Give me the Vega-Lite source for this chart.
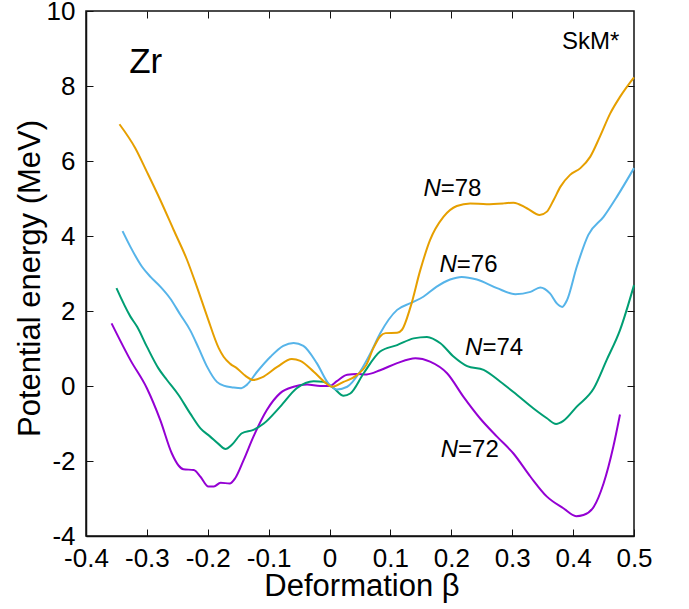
{
  "$schema": "https://vega.github.io/schema/vega-lite/v6.json",
  "width": 548,
  "height": 525,
  "autosize": "none",
  "padding": {"left": 86, "top": 11, "right": 55, "bottom": 73},
  "config": {
    "font": "Liberation Sans",
    "view": {"stroke": "#111", "strokeWidth": 1.5},
    "axis": {"grid": false, "domainColor": "#111", "domainWidth": 1.5, "tickColor": "#111", "labelColor": "#000", "titleColor": "#000", "titleFontWeight": "normal", "labelFont": "Liberation Sans", "titleFont": "Liberation Sans"}
  },
  "datasets": {
    "curves": [
      {"b": -0.358, "e": 1.67, "N": "72"},
      {"b": -0.327, "e": 0.69, "N": "72"},
      {"b": -0.300, "e": -0.06, "N": "72"},
      {"b": -0.278, "e": -0.91, "N": "72"},
      {"b": -0.259, "e": -1.80, "N": "72"},
      {"b": -0.248, "e": -2.12, "N": "72"},
      {"b": -0.240, "e": -2.22, "N": "72"},
      {"b": -0.223, "e": -2.24, "N": "72"},
      {"b": -0.212, "e": -2.42, "N": "72"},
      {"b": -0.199, "e": -2.68, "N": "72"},
      {"b": -0.190, "e": -2.68, "N": "72"},
      {"b": -0.179, "e": -2.58, "N": "72"},
      {"b": -0.164, "e": -2.60, "N": "72"},
      {"b": -0.155, "e": -2.46, "N": "72"},
      {"b": -0.141, "e": -1.97, "N": "72"},
      {"b": -0.125, "e": -1.35, "N": "72"},
      {"b": -0.103, "e": -0.64, "N": "72"},
      {"b": -0.081, "e": -0.19, "N": "72"},
      {"b": -0.059, "e": -0.02, "N": "72"},
      {"b": -0.037, "e": 0.04, "N": "72"},
      {"b": -0.015, "e": 0.0, "N": "72"},
      {"b": 0.0, "e": 0.0, "N": "72"},
      {"b": 0.012, "e": 0.13, "N": "72"},
      {"b": 0.029, "e": 0.30, "N": "72"},
      {"b": 0.045, "e": 0.32, "N": "72"},
      {"b": 0.061, "e": 0.31, "N": "72"},
      {"b": 0.083, "e": 0.42, "N": "72"},
      {"b": 0.111, "e": 0.61, "N": "72"},
      {"b": 0.141, "e": 0.74, "N": "72"},
      {"b": 0.165, "e": 0.65, "N": "72"},
      {"b": 0.193, "e": 0.34, "N": "72"},
      {"b": 0.220, "e": -0.29, "N": "72"},
      {"b": 0.247, "e": -0.86, "N": "72"},
      {"b": 0.275, "e": -1.35, "N": "72"},
      {"b": 0.302, "e": -1.80, "N": "72"},
      {"b": 0.330, "e": -2.42, "N": "72"},
      {"b": 0.357, "e": -2.95, "N": "72"},
      {"b": 0.384, "e": -3.26, "N": "72"},
      {"b": 0.405, "e": -3.47, "N": "72"},
      {"b": 0.417, "e": -3.44, "N": "72"},
      {"b": 0.434, "e": -3.22, "N": "72"},
      {"b": 0.450, "e": -2.60, "N": "72"},
      {"b": 0.466, "e": -1.62, "N": "72"},
      {"b": 0.477, "e": -0.76, "N": "72"},

      {"b": -0.350, "e": 2.61, "N": "74"},
      {"b": -0.327, "e": 1.85, "N": "74"},
      {"b": -0.316, "e": 1.58, "N": "74"},
      {"b": -0.300, "e": 1.05, "N": "74"},
      {"b": -0.281, "e": 0.47, "N": "74"},
      {"b": -0.267, "e": 0.16, "N": "74"},
      {"b": -0.248, "e": -0.24, "N": "74"},
      {"b": -0.229, "e": -0.73, "N": "74"},
      {"b": -0.212, "e": -1.13, "N": "74"},
      {"b": -0.196, "e": -1.35, "N": "74"},
      {"b": -0.182, "e": -1.55, "N": "74"},
      {"b": -0.171, "e": -1.68, "N": "74"},
      {"b": -0.160, "e": -1.56, "N": "74"},
      {"b": -0.144, "e": -1.26, "N": "74"},
      {"b": -0.125, "e": -1.17, "N": "74"},
      {"b": -0.108, "e": -1.0, "N": "74"},
      {"b": -0.081, "e": -0.55, "N": "74"},
      {"b": -0.054, "e": -0.06, "N": "74"},
      {"b": -0.026, "e": 0.13, "N": "74"},
      {"b": -0.010, "e": 0.11, "N": "74"},
      {"b": 0.007, "e": -0.06, "N": "74"},
      {"b": 0.023, "e": -0.26, "N": "74"},
      {"b": 0.034, "e": -0.20, "N": "74"},
      {"b": 0.056, "e": 0.34, "N": "74"},
      {"b": 0.083, "e": 0.92, "N": "74"},
      {"b": 0.111, "e": 1.09, "N": "74"},
      {"b": 0.138, "e": 1.27, "N": "74"},
      {"b": 0.160, "e": 1.31, "N": "74"},
      {"b": 0.182, "e": 1.14, "N": "74"},
      {"b": 0.204, "e": 0.78, "N": "74"},
      {"b": 0.226, "e": 0.53, "N": "74"},
      {"b": 0.253, "e": 0.43, "N": "74"},
      {"b": 0.280, "e": 0.12, "N": "74"},
      {"b": 0.308, "e": -0.24, "N": "74"},
      {"b": 0.335, "e": -0.60, "N": "74"},
      {"b": 0.357, "e": -0.86, "N": "74"},
      {"b": 0.372, "e": -1.01, "N": "74"},
      {"b": 0.384, "e": -0.93, "N": "74"},
      {"b": 0.406, "e": -0.55, "N": "74"},
      {"b": 0.434, "e": -0.06, "N": "74"},
      {"b": 0.455, "e": 0.69, "N": "74"},
      {"b": 0.477, "e": 1.49, "N": "74"},
      {"b": 0.500, "e": 2.69, "N": "74"},

      {"b": -0.340, "e": 4.13, "N": "76"},
      {"b": -0.327, "e": 3.71, "N": "76"},
      {"b": -0.308, "e": 3.18, "N": "76"},
      {"b": -0.294, "e": 2.91, "N": "76"},
      {"b": -0.278, "e": 2.65, "N": "76"},
      {"b": -0.262, "e": 2.34, "N": "76"},
      {"b": -0.245, "e": 1.90, "N": "76"},
      {"b": -0.229, "e": 1.49, "N": "76"},
      {"b": -0.215, "e": 1.01, "N": "76"},
      {"b": -0.201, "e": 0.51, "N": "76"},
      {"b": -0.185, "e": 0.11, "N": "76"},
      {"b": -0.174, "e": 0.01, "N": "76"},
      {"b": -0.158, "e": -0.04, "N": "76"},
      {"b": -0.145, "e": -0.06, "N": "76"},
      {"b": -0.136, "e": 0.03, "N": "76"},
      {"b": -0.119, "e": 0.38, "N": "76"},
      {"b": -0.097, "e": 0.78, "N": "76"},
      {"b": -0.076, "e": 1.07, "N": "76"},
      {"b": -0.059, "e": 1.15, "N": "76"},
      {"b": -0.043, "e": 1.07, "N": "76"},
      {"b": -0.021, "e": 0.61, "N": "76"},
      {"b": -0.002, "e": 0.07, "N": "76"},
      {"b": 0.012, "e": -0.09, "N": "76"},
      {"b": 0.029, "e": -0.02, "N": "76"},
      {"b": 0.050, "e": 0.38, "N": "76"},
      {"b": 0.067, "e": 0.87, "N": "76"},
      {"b": 0.083, "e": 1.40, "N": "76"},
      {"b": 0.111, "e": 2.03, "N": "76"},
      {"b": 0.133, "e": 2.21, "N": "76"},
      {"b": 0.154, "e": 2.38, "N": "76"},
      {"b": 0.176, "e": 2.65, "N": "76"},
      {"b": 0.198, "e": 2.84, "N": "76"},
      {"b": 0.217, "e": 2.91, "N": "76"},
      {"b": 0.242, "e": 2.84, "N": "76"},
      {"b": 0.275, "e": 2.61, "N": "76"},
      {"b": 0.305, "e": 2.45, "N": "76"},
      {"b": 0.330, "e": 2.51, "N": "76"},
      {"b": 0.346, "e": 2.63, "N": "76"},
      {"b": 0.362, "e": 2.47, "N": "76"},
      {"b": 0.374, "e": 2.19, "N": "76"},
      {"b": 0.382, "e": 2.11, "N": "76"},
      {"b": 0.390, "e": 2.29, "N": "76"},
      {"b": 0.406, "e": 3.18, "N": "76"},
      {"b": 0.425, "e": 4.03, "N": "76"},
      {"b": 0.450, "e": 4.51, "N": "76"},
      {"b": 0.472, "e": 5.05, "N": "76"},
      {"b": 0.500, "e": 5.81, "N": "76"},

      {"b": -0.345, "e": 6.98, "N": "78"},
      {"b": -0.319, "e": 6.34, "N": "78"},
      {"b": -0.300, "e": 5.71, "N": "78"},
      {"b": -0.278, "e": 4.96, "N": "78"},
      {"b": -0.256, "e": 4.16, "N": "78"},
      {"b": -0.234, "e": 3.36, "N": "78"},
      {"b": -0.218, "e": 2.65, "N": "78"},
      {"b": -0.201, "e": 1.85, "N": "78"},
      {"b": -0.182, "e": 1.01, "N": "78"},
      {"b": -0.174, "e": 0.78, "N": "78"},
      {"b": -0.163, "e": 0.59, "N": "78"},
      {"b": -0.152, "e": 0.47, "N": "78"},
      {"b": -0.138, "e": 0.27, "N": "78"},
      {"b": -0.125, "e": 0.16, "N": "78"},
      {"b": -0.111, "e": 0.23, "N": "78"},
      {"b": -0.086, "e": 0.51, "N": "78"},
      {"b": -0.062, "e": 0.72, "N": "78"},
      {"b": -0.048, "e": 0.67, "N": "78"},
      {"b": -0.026, "e": 0.38, "N": "78"},
      {"b": -0.007, "e": 0.09, "N": "78"},
      {"b": 0.004, "e": -0.02, "N": "78"},
      {"b": 0.023, "e": 0.11, "N": "78"},
      {"b": 0.045, "e": 0.29, "N": "78"},
      {"b": 0.060, "e": 0.55, "N": "78"},
      {"b": 0.072, "e": 1.01, "N": "78"},
      {"b": 0.083, "e": 1.32, "N": "78"},
      {"b": 0.092, "e": 1.41, "N": "78"},
      {"b": 0.111, "e": 1.42, "N": "78"},
      {"b": 0.119, "e": 1.50, "N": "78"},
      {"b": 0.133, "e": 2.11, "N": "78"},
      {"b": 0.149, "e": 3.09, "N": "78"},
      {"b": 0.165, "e": 3.89, "N": "78"},
      {"b": 0.187, "e": 4.51, "N": "78"},
      {"b": 0.209, "e": 4.80, "N": "78"},
      {"b": 0.231, "e": 4.87, "N": "78"},
      {"b": 0.258, "e": 4.85, "N": "78"},
      {"b": 0.286, "e": 4.87, "N": "78"},
      {"b": 0.302, "e": 4.89, "N": "78"},
      {"b": 0.324, "e": 4.74, "N": "78"},
      {"b": 0.345, "e": 4.56, "N": "78"},
      {"b": 0.357, "e": 4.65, "N": "78"},
      {"b": 0.368, "e": 4.96, "N": "78"},
      {"b": 0.379, "e": 5.31, "N": "78"},
      {"b": 0.395, "e": 5.63, "N": "78"},
      {"b": 0.412, "e": 5.81, "N": "78"},
      {"b": 0.428, "e": 6.11, "N": "78"},
      {"b": 0.444, "e": 6.65, "N": "78"},
      {"b": 0.461, "e": 7.27, "N": "78"},
      {"b": 0.477, "e": 7.71, "N": "78"},
      {"b": 0.500, "e": 8.23, "N": "78"}
    ],
    "nlabels": [
      {"b": 0.1826, "e": 5.07, "n": "N", "rest": "=78"},
      {"b": 0.209, "e": 3.05, "n": "N", "rest": "=76"},
      {"b": 0.251, "e": 0.83, "n": "N", "rest": "=74"},
      {"b": 0.211, "e": -1.90, "n": "N", "rest": "=72"}
    ],
    "zr": [{"b": -0.329, "e": 8.35, "t": "Zr"}],
    "force": [{"b": 0.476, "e": 9.0, "t": "SkM*"}]
  },
  "layer": [
    {
      "data": {"name": "curves"},
      "mark": {"type": "line", "interpolate": "monotone", "strokeWidth": 2},
      "encoding": {
        "x": {"field": "b", "type": "quantitative", "scale": {"domain": [-0.4, 0.5], "nice": false, "zero": false},
          "axis": {"orient": "bottom", "values": [-0.4, -0.3, -0.2, -0.1, 0, 0.1, 0.2, 0.3, 0.4, 0.5], "labelExpr": "'' + datum.value", "labelFontSize": 26, "tickSize": -7, "labelPadding": 16, "labelFlush": false, "labelOverlap": false, "title": "Deformation β", "titleFontSize": 31, "titleX": 275.5, "titleY": 59, "titleBaseline": "alphabetic", "titleAlign": "center"}},
        "y": {"field": "e", "type": "quantitative", "scale": {"domain": [-4, 10], "nice": false, "zero": false},
          "axis": {"orient": "left", "values": [-4, -2, 0, 2, 4, 6, 8, 10], "labelExpr": "'' + datum.value", "labelFontSize": 26, "tickSize": -7, "labelPadding": 18, "labelFlush": false, "labelOverlap": false, "labelBaseline": "middle", "title": "Potential energy (MeV)", "titleFontSize": 31, "titleAngle": 270, "titleX": -46.7, "titleY": 267, "titleBaseline": "alphabetic", "titleAlign": "center"}},
        "color": {"field": "N", "type": "nominal", "scale": {"domain": ["72", "74", "76", "78"], "range": ["#9400D3", "#009E73", "#56B4E9", "#E69F00"]}, "legend": null}
      }
    },
    {
      "data": {"name": "curves"},
      "mark": {"type": "point", "opacity": 0},
      "encoding": {
        "x": {"field": "b", "type": "quantitative", "scale": {"domain": [-0.4, 0.5], "nice": false, "zero": false},
          "axis": {"orient": "top", "values": [-0.3, -0.2, -0.1, 0, 0.1, 0.2, 0.3, 0.4], "labels": false, "tickSize": -7, "domain": false, "title": null}},
        "y": {"field": "e", "type": "quantitative", "scale": {"domain": [-4, 10], "nice": false, "zero": false},
          "axis": {"orient": "right", "values": [-2, 0, 2, 4, 6, 8], "labels": false, "tickSize": -7, "domain": false, "title": null}}
      }
    },
    {
      "data": {"name": "nlabels"},
      "mark": {"type": "text", "align": "right", "baseline": "alphabetic", "fontSize": 24, "fontStyle": "italic", "font": "Liberation Sans", "color": "#000"},
      "encoding": {
        "x": {"field": "b", "type": "quantitative", "scale": {"domain": [-0.4, 0.5], "nice": false, "zero": false}, "axis": null},
        "y": {"field": "e", "type": "quantitative", "scale": {"domain": [-4, 10], "nice": false, "zero": false}, "axis": null},
        "text": {"field": "n"}
      }
    },
    {
      "data": {"name": "nlabels"},
      "mark": {"type": "text", "align": "left", "baseline": "alphabetic", "fontSize": 24, "font": "Liberation Sans", "color": "#000"},
      "encoding": {
        "x": {"field": "b", "type": "quantitative", "scale": {"domain": [-0.4, 0.5], "nice": false, "zero": false}, "axis": null},
        "y": {"field": "e", "type": "quantitative", "scale": {"domain": [-4, 10], "nice": false, "zero": false}, "axis": null},
        "text": {"field": "rest"}
      }
    },
    {
      "data": {"name": "zr"},
      "mark": {"type": "text", "align": "left", "baseline": "alphabetic", "fontSize": 35, "font": "Liberation Sans", "color": "#000"},
      "encoding": {
        "x": {"field": "b", "type": "quantitative", "scale": {"domain": [-0.4, 0.5], "nice": false, "zero": false}, "axis": null},
        "y": {"field": "e", "type": "quantitative", "scale": {"domain": [-4, 10], "nice": false, "zero": false}, "axis": null},
        "text": {"field": "t"}
      }
    },
    {
      "data": {"name": "force"},
      "mark": {"type": "text", "align": "right", "baseline": "alphabetic", "fontSize": 24, "font": "Liberation Sans", "color": "#000"},
      "encoding": {
        "x": {"field": "b", "type": "quantitative", "scale": {"domain": [-0.4, 0.5], "nice": false, "zero": false}, "axis": null},
        "y": {"field": "e", "type": "quantitative", "scale": {"domain": [-4, 10], "nice": false, "zero": false}, "axis": null},
        "text": {"field": "t"}
      }
    }
  ],
  "resolve": {"axis": {"x": "independent", "y": "independent"}}
}
